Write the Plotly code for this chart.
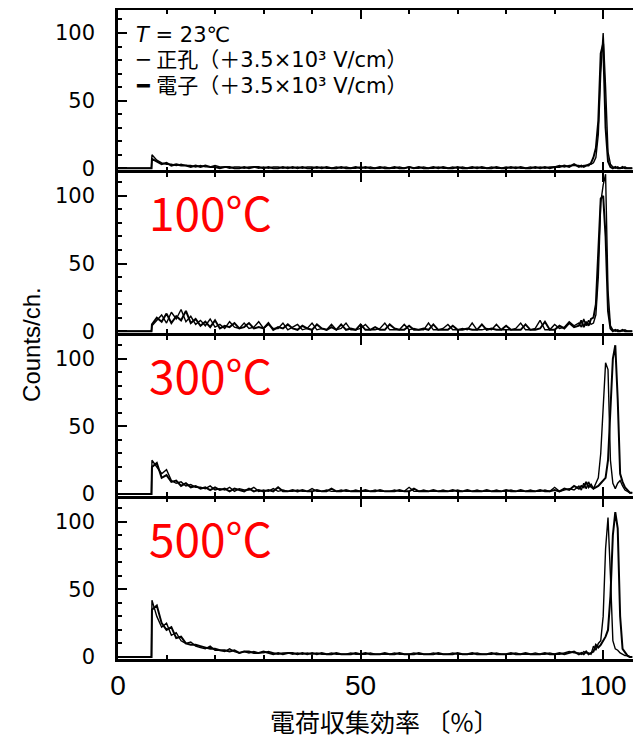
import plotly.graph_objects as go
from plotly.subplots import make_subplots

# channel grid: 0, then 7..94 step 1, then 95..106 step 0.5
low_ch = list(range(7, 95))
peak_ch = [95 + 0.5 * i for i in range(23)]
channels = [0] + low_ch + peak_ch

temps = ["23°C", "100°C", "300°C", "500°C"]

# counts/ch., hole (正孔) and electron (電子) spectra, low part (7..94) + peak part (95..106)
holes_23_low = [10,6,4,3,3,2,3,2,2,1, 2,1,1,2,1,1,0,1,1,0, 1,1,0,1,0,1,1,0,1,0,
                1,0,1,1,0,1,0,0,1,0, 1,0,0,1,0,1,0,0,1,0, 0,1,0,1,0,0,1,0,0,1,
                0,0,1,0,1,0,0,1,0,0, 1,0,0,1,0,1,0,0,1,0, 1,0,1,1,2,1,2,2]
holes_23_peak = [2,1,2,2,3,3,4,8,25,70,100,60,12,3,1,0,1,0,0,1,0,0,0]
elec_23_low = [7,5,3,4,2,3,2,2,1,2, 1,2,1,1,0,1,1,0,0,1, 0,1,1,0,1,0,0,1,0,1,
               0,1,0,0,1,0,1,0,0,1, 0,0,1,0,1,0,0,1,0,0, 1,0,0,1,0,1,0,0,1,0,
               1,0,0,1,0,0,1,0,1,0, 0,1,0,0,1,0,1,0,0,1, 0,1,0,1,1,2,1,3]
elec_23_peak = [1,2,1,2,2,4,8,15,35,85,92,30,5,1,0,1,0,0,1,0,0,0,0]

holes_100_low = [4,8,12,6,14,9,16,7,11,5, 8,4,9,3,5,2,7,3,2,6, 2,3,7,2,5,2,2,6,1,3,
                 5,1,2,6,1,2,1,5,1,2, 6,1,1,2,5,1,1,2,6,1, 1,1,5,1,2,1,1,6,1,1,
                 2,5,1,1,2,1,6,1,1,2, 1,5,1,1,1,2,6,1,1,2, 8,1,1,5,2,3,7,4]
holes_100_peak = [6,3,9,4,8,5,6,12,40,95,108,116,30,4,1,0,1,0,0,1,0,0,0]
elec_100_low = [5,10,7,13,6,11,8,15,6,9, 4,7,3,8,2,4,3,6,2,3, 6,2,3,2,6,1,3,2,5,2,
                1,4,2,1,5,2,1,3,1,5, 1,2,1,5,1,1,3,1,1,5, 2,1,1,4,1,1,2,1,5,1,
                1,1,4,1,1,2,1,1,5,1, 2,1,1,4,1,1,1,5,1,1, 2,7,1,1,4,2,6,3]
elec_100_peak = [4,8,3,7,4,9,10,20,55,98,100,70,15,2,0,1,0,0,1,0,0,0,0]

holes_300_low = [25,20,15,18,10,8,9,6,7,5, 5,4,6,3,4,3,5,2,4,3, 3,5,2,3,2,4,2,3,2,2,
                 3,2,2,4,2,2,3,2,2,3, 2,2,3,2,2,2,3,2,2,2, 3,2,2,5,2,2,3,2,2,2,
                 3,2,2,3,2,2,2,3,2,2, 2,3,2,2,3,2,2,2,3,2, 2,3,2,5,2,3,4,3]
holes_300_peak = [6,3,8,4,9,5,4,8,12,30,60,97,92,25,8,4,8,10,6,3,2,1,1]
elec_300_low = [20,23,12,14,9,10,6,8,5,6, 4,5,3,5,3,4,2,4,3,2, 4,2,3,2,3,2,5,2,2,3,
                2,3,2,2,3,2,2,4,2,2, 3,2,2,2,3,2,2,3,2,2, 2,3,2,2,4,2,2,2,3,2,
                2,2,3,2,2,3,2,2,2,3, 2,2,2,3,2,2,3,2,2,2, 3,2,2,3,2,4,3,6]
elec_300_peak = [4,6,5,9,5,7,4,5,6,8,10,12,25,60,100,110,70,15,9,5,3,1,1]

holes_500_low = [42,30,22,25,16,18,12,10,11,8, 7,6,8,5,5,4,6,4,3,4, 3,4,3,3,4,3,2,3,3,2,
                 3,2,3,2,3,2,2,3,2,2, 2,3,2,2,2,3,2,2,2,2, 3,2,2,2,3,2,2,2,3,2,
                 2,2,3,2,2,2,2,3,2,2, 2,3,2,2,2,3,2,2,2,3, 2,2,3,2,2,3,4,3]
holes_500_peak = [3,2,4,3,3,2,8,5,10,12,30,80,103,60,12,6,5,3,2,1,1,0,0]
elec_500_low = [35,38,25,20,22,14,15,10,9,9, 8,7,6,6,5,5,4,5,3,4, 4,3,3,4,3,2,3,2,3,3,
                2,3,2,3,2,3,2,2,3,2, 2,2,3,2,3,2,2,2,3,2, 2,3,2,2,2,3,2,2,2,3,
                2,2,2,3,2,2,3,2,2,2, 3,2,2,2,3,2,2,3,2,2, 2,3,2,2,3,2,3,4]
elec_500_peak = [2,3,2,4,2,3,4,9,7,9,12,15,20,45,90,107,95,30,6,3,1,0,0]

holes = [[0] + holes_23_low + holes_23_peak, [0] + holes_100_low + holes_100_peak,
         [0] + holes_300_low + holes_300_peak, [0] + holes_500_low + holes_500_peak]
elecs = [[0] + elec_23_low + elec_23_peak, [0] + elec_100_low + elec_100_peak,
         [0] + elec_300_low + elec_300_peak, [0] + elec_500_low + elec_500_peak]

fig = make_subplots(rows=4, cols=1, shared_xaxes=True, vertical_spacing=0.004)

for i in range(4):
    # step up at threshold: hold 0 until channel 7
    xs = [0, 6.9] + channels[1:]
    fig.add_trace(go.Scatter(x=xs, y=[0] + holes[i], mode="lines",
                             line=dict(color="black", width=1.4), showlegend=False), row=i + 1, col=1)
    fig.add_trace(go.Scatter(x=xs, y=[0] + elecs[i], mode="lines",
                             line=dict(color="black", width=2), showlegend=False), row=i + 1, col=1)
    fig.update_yaxes(range=[-1.5, 117], tickvals=[0, 50, 100], ticks="inside", ticklen=9,
                     tickwidth=2, tickcolor="black", showline=True, linecolor="black", linewidth=2.5,
                     showgrid=False, zeroline=False, ticklabelstandoff=16, automargin=False,
                     minor=dict(dtick=10, tick0=0, ticks="inside", ticklen=4, tickcolor="black", tickwidth=1.5),
                     tickfont=dict(family="DejaVu Sans", size=21, color="black"),
                     row=i + 1, col=1)
    fig.update_xaxes(range=[0, 107.8], tickvals=[0, 50, 100], ticks="inside", ticklen=9,
                     tickwidth=2, tickcolor="black", showline=True, linecolor="black", linewidth=2.5,
                     mirror="ticks", showgrid=False, zeroline=False, automargin=False,
                     minor=dict(dtick=10, tick0=0, ticks="inside", ticklen=4, tickcolor="black", tickwidth=1.5),
                     tickfont=dict(family="Liberation Sans", size=28, color="black"),
                     row=i + 1, col=1)

fig.update_xaxes(ticklabelstandoff=0, row=4, col=1)

# red temperature labels for panels 2-4
for i in range(1, 4):
    yname = "y%d domain" % (i + 1)
    fig.add_annotation(text=temps[i], xref="x domain", yref=yname, x=0.055, y=0.76,
                       xanchor="left", yanchor="middle", showarrow=False,
                       font=dict(family="Noto Sans CJK JP", size=46, color="#ff0000"))

# legend text in top panel
legend_lines = ["<i>T</i> = 23℃", "─ 正孔（＋3.5×10³ V/cm）", "━ 電子（＋3.5×10³ V/cm）"]
legend_y = [0.845, 0.685, 0.525]
for txt, yy in zip(legend_lines, legend_y):
    fig.add_annotation(text=txt, xref="x domain", yref="y domain", x=0.03, y=yy,
                       xanchor="left", yanchor="middle", showarrow=False,
                       font=dict(family="DejaVu Sans, Noto Sans CJK JP", size=21, color="black"))

fig.add_annotation(text="Counts/ch.", xref="paper", yref="paper", x=-0.165, y=0.485,
                   textangle=-90, showarrow=False, xanchor="center", yanchor="middle",
                   font=dict(family="Liberation Sans", size=24, color="black"))
fig.add_annotation(text="電荷収集効率 〔%〕", xref="paper", yref="paper", x=0.51, y=-0.095,
                   showarrow=False, xanchor="center", yanchor="middle",
                   font=dict(family="Noto Sans CJK JP", size=25, color="black"))

# page body has an 8px margin, so the figure is shifted by 8px; compensate
fig.update_layout(width=633, height=730, margin=dict(l=110, r=0, t=2, b=79, autoexpand=False),
                  plot_bgcolor="white", paper_bgcolor="white")

fig.write_html("out.html")
